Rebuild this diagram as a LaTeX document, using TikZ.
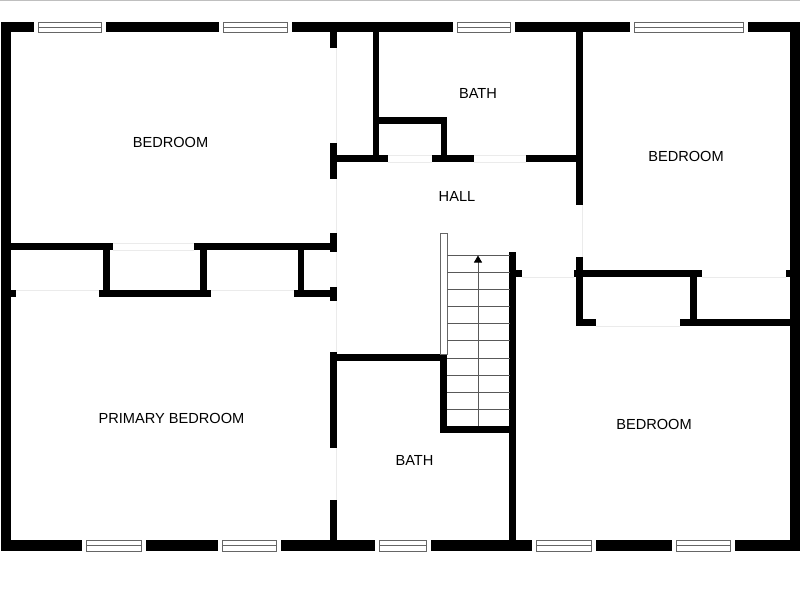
\documentclass[tikz,border=0pt]{standalone}
\usepackage{fontspec}
\setmainfont{Liberation Sans}
\usepackage{tikz}
\usetikzlibrary{arrows.meta}

\tikzset{
  wall/.style={fill=black},
  opening/.style={draw=black!8, line width=0.8pt},
  pane/.style={draw=black!60, line width=0.9pt},
  tread/.style={draw=black!65, line width=0.8pt},
  roomlabel/.style={font=\fontsize{14.6}{17}\selectfont, text=black, inner sep=0pt}
}

\begin{document}
\begin{tikzpicture}[x=1pt,y=-1pt]
\useasboundingbox (0,0) rectangle (800,600);
\draw[lightgray, line width=1.2pt] (0,0.5) -- (800,0.5);

% draw outer walls
\foreach \xa/\ya/\xb/\yb in {1/22/800/32, 1/540/800/551, 1/22/11/551, 790/22/800/551}
\fill[wall] (\xa,\ya) rectangle (\xb,\yb);

% draw windows
\foreach \xa/\xb in {33.5/106, 219/292, 453/515, 630/748}{
\fill[white] (\xa,21.5) rectangle (\xb,32.5);
\draw[pane] (\xa+4.5,22) rectangle (\xb-4.5,32);
\draw[pane] (\xa+4.5,27) -- (\xb-4.5,27);
}
\foreach \xa/\xb in {82/146, 218/281, 375/431, 532/596, 672/735}{
\fill[white] (\xa,539.5) rectangle (\xb,551.5);
\draw[pane] (\xa+4.5,540.5) rectangle (\xb-4.5,551);
\draw[pane] (\xa+4.5,545.5) -- (\xb-4.5,545.5);
}

% door openings
\foreach \xa/\ya/\xb/\yb in {336.5/48/336.5/143, 336.5/179/336.5/233, 336.5/252/336.5/287,
  336.5/301/336.5/352, 336.5/448/336.5/500, 582.5/205/582.5/257,
  113/243/194/243, 113/250/194/250, 16/290/99/290, 211/290/294/290,
  388/155/432/155, 388/162/432/162, 474/155/526/155, 474/162/526/162,
  522/277/574/277, 702/277/786/277, 596/326/680/326}
\draw[opening] (\xa,\ya) -- (\xb,\yb);

% draw inner walls
\foreach \xa/\ya/\xb/\yb in {330/32/337/48, 330/143/337/179, 330/233/337/252, 330/287/337/301,
  330/352/337/448, 330/500/337/540,
  337/155/388/162, 432/155/474/162, 526/155/576/162,
  372.7/32/379.3/155, 379/117/447/124, 440.5/117/447/155,
  575.7/32/582.7/205, 575.7/257/582.7/326, 574/270/702/277, 786/270/790/277,
  509.3/252/516/540, 516/270/522/277, 690/277/697/320,
  575.7/319/596/326, 680/319/790/326,
  11/243/113/250, 194/243/330/250, 103/250/110/290, 200/250/207/290, 298/250/304/290,
  99/290/211/297, 294/290/330/297, 11/290/16/297,
  337/354/447/361, 440/354/447/433, 440/426/510/433}
\fill[wall] (\xa,\ya) rectangle (\xb,\yb);

% stairs
\draw[pane, fill=white] (440.5,233) rectangle (447,354);
\foreach \y in {255,272,289.5,306.5,323.5,340.5,358,375,392,409}
\draw[tread] (447,\y) -- (509.5,\y);
\draw[tread, -{Triangle[length=7pt,width=8pt,color=black]}] (478,426) -- (478,255.5);

% room labels
\foreach \name/\x/\y/\descr in {bedroomA/170.5/142/BEDROOM, bathA/478/93/BATH, bedroomB/686/156/BEDROOM,
  hall/457/196/HALL, primary/171.5/418.5/PRIMARY BEDROOM, bathB/414.5/460/BATH, bedroomC/654/424/BEDROOM}
\node[roomlabel] (\name) at (\x,\y) {\descr};
\end{tikzpicture}
\end{document}
